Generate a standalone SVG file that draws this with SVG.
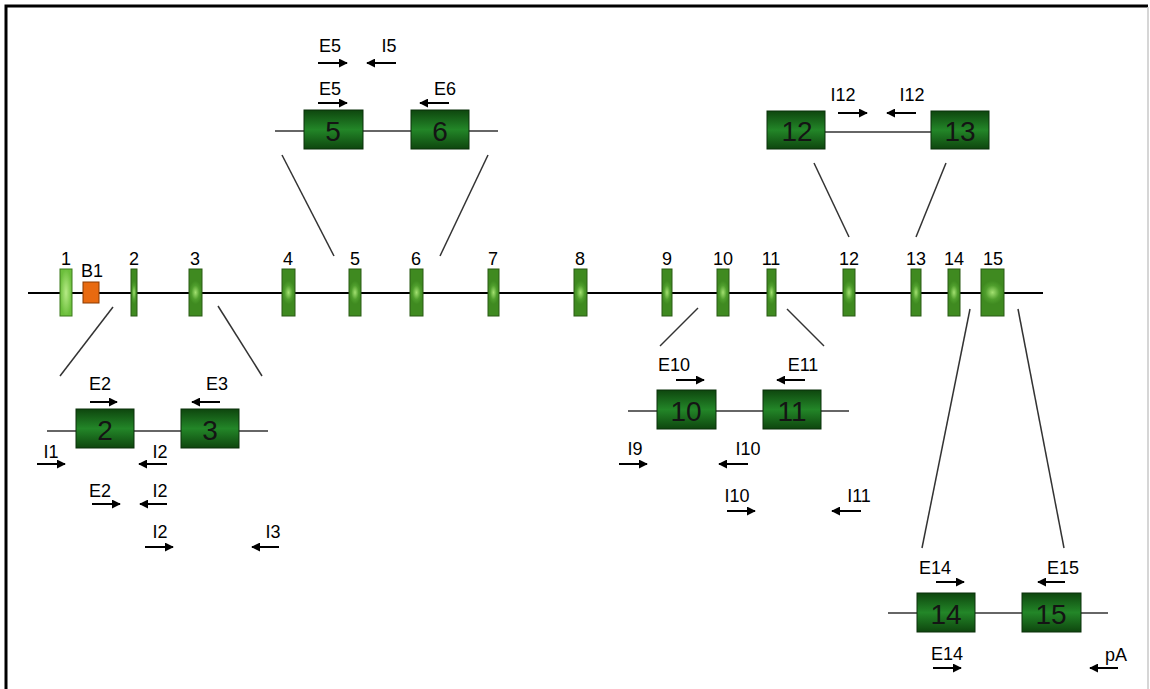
<svg xmlns="http://www.w3.org/2000/svg" width="1150" height="689" viewBox="0 0 1150 689">
<defs>
<radialGradient id="ex" cx="0.5" cy="0.5" r="0.5" gradientTransform="translate(0.5 0.5) scale(1 0.5) translate(-0.5 -0.5)">
<stop offset="0" stop-color="#a2e070"/>
<stop offset="0.6" stop-color="#509f2d"/>
<stop offset="1" stop-color="#3f8a20"/>
</radialGradient>
<radialGradient id="ex1" cx="0.5" cy="0.5" r="0.5">
<stop offset="0" stop-color="#b6ea86"/>
<stop offset="1" stop-color="#6cbf3c"/>
</radialGradient>
<linearGradient id="bx" x1="0" y1="0" x2="0" y2="1">
<stop offset="0" stop-color="#0e460e"/>
<stop offset="0.5" stop-color="#238628"/>
<stop offset="1" stop-color="#0e460e"/>
</linearGradient>
<marker id="ah" viewBox="0 0 10 10" refX="9" refY="5" markerWidth="4.5" markerHeight="4.5" orient="auto">
<path d="M0,0 L10,5 L0,10 z" fill="#000"/>
</marker>
</defs>
<style>
.ln{stroke:#000;stroke-width:2;fill:none}
.th{stroke:#333;stroke-width:1.5;fill:none}
.ex{fill:url(#ex);stroke:#2a5a14;stroke-width:1}
.bx{fill:url(#bx);stroke:#0a300a;stroke-width:1}
.t{font-family:"Liberation Sans",Arial,sans-serif;font-size:18px;fill:#000;text-anchor:middle}
.bt{font-family:"Liberation Sans",Arial,sans-serif;font-size:28px;fill:#141414;text-anchor:middle}
.ar{stroke:#000;stroke-width:2;fill:none;marker-end:url(#ah)}
</style>
<rect width="1150" height="689" fill="#fff"/>
<path d="M6,689 V6 H1148" stroke="#000" stroke-width="3" fill="none"/>
<line x1="1148" y1="7" x2="1148" y2="689" stroke="#c8c8c8" stroke-width="1.5"/>

<g id="gene">
<line class="ln" x1="28" y1="293" x2="1043" y2="293"/>
</g>
<g id="exon1"><rect x="60" y="269" width="12" height="47" fill="url(#ex1)" stroke="#3d7a1c"/><text class="t" x="66" y="265">1</text></g>
<g id="B1"><rect x="83" y="282" width="16" height="21" fill="#e86a10" stroke="#8a3a00"/><text class="t" x="92" y="277">B1</text></g>
<g id="exon2"><rect class="ex" x="131" y="269" width="6" height="47"/><text class="t" x="134" y="265">2</text></g>
<g id="exon3"><rect class="ex" x="189" y="269" width="13" height="47"/><text class="t" x="195" y="265">3</text></g>
<g id="exon4"><rect class="ex" x="282" y="269" width="13" height="47"/><text class="t" x="288" y="265">4</text></g>
<g id="exon5"><rect class="ex" x="349" y="269" width="12" height="47"/><text class="t" x="355" y="265">5</text></g>
<g id="exon6"><rect class="ex" x="410" y="269" width="13" height="47"/><text class="t" x="416" y="265">6</text></g>
<g id="exon7"><rect class="ex" x="488" y="269" width="11" height="47"/><text class="t" x="493" y="265">7</text></g>
<g id="exon8"><rect class="ex" x="574" y="269" width="13" height="47"/><text class="t" x="580" y="265">8</text></g>
<g id="exon9"><rect class="ex" x="662" y="269" width="10" height="47"/><text class="t" x="667" y="265">9</text></g>
<g id="exon10"><rect class="ex" x="717" y="269" width="12" height="47"/><text class="t" x="723" y="265">10</text></g>
<g id="exon11"><rect class="ex" x="767" y="269" width="9" height="47"/><text class="t" x="771" y="265">11</text></g>
<g id="exon12"><rect class="ex" x="843" y="269" width="12" height="47"/><text class="t" x="849" y="265">12</text></g>
<g id="exon13"><rect class="ex" x="911" y="269" width="10" height="47"/><text class="t" x="916" y="265">13</text></g>
<g id="exon14"><rect class="ex" x="948" y="269" width="12" height="47"/><text class="t" x="954" y="265">14</text></g>
<g id="exon15"><rect class="ex" x="981" y="269" width="23" height="47"/><text class="t" x="993" y="265">15</text></g>

<g id="connectors">
<line class="th" x1="113" y1="307" x2="60" y2="376"/>
<line class="th" x1="218" y1="306" x2="262" y2="376"/>
<line class="th" x1="282" y1="155" x2="334" y2="256"/>
<line class="th" x1="488" y1="155" x2="440" y2="256"/>
<line class="th" x1="814" y1="163" x2="849" y2="237"/>
<line class="th" x1="946" y1="163" x2="916" y2="237"/>
<line class="th" x1="698" y1="308" x2="660" y2="346"/>
<line class="th" x1="787" y1="309" x2="824" y2="346"/>
<line class="th" x1="970" y1="309" x2="922" y2="548"/>
<line class="th" x1="1018" y1="309" x2="1064" y2="548"/>
</g>

<g id="zoom23">
<line class="th" x1="47" y1="431" x2="268" y2="431"/>
<rect class="bx" x="76" y="409" width="58" height="39"/><text class="bt" x="105" y="440">2</text>
<rect class="bx" x="181" y="409" width="58" height="39"/><text class="bt" x="210" y="440">3</text>
<text class="t" x="100" y="390">E2</text><line class="ar" x1="90" y1="402" x2="117" y2="402"/>
<text class="t" x="217" y="390">E3</text><line class="ar" x1="220" y1="402" x2="192" y2="402"/>
<text class="t" x="51" y="458">I1</text><line class="ar" x1="37" y1="464" x2="65" y2="464"/>
<text class="t" x="160" y="458">I2</text><line class="ar" x1="167" y1="464" x2="139" y2="464"/>
<text class="t" x="100" y="497">E2</text><line class="ar" x1="92" y1="504" x2="120" y2="504"/>
<text class="t" x="160" y="497">I2</text><line class="ar" x1="167" y1="504" x2="140" y2="504"/>
<text class="t" x="160" y="538">I2</text><line class="ar" x1="145" y1="547" x2="173" y2="547"/>
<text class="t" x="273" y="538">I3</text><line class="ar" x1="279" y1="547" x2="252" y2="547"/>
</g>

<g id="zoom56">
<line class="th" x1="275" y1="131" x2="498" y2="131"/>
<rect class="bx" x="304" y="110" width="59" height="39"/><text class="bt" x="333" y="141">5</text>
<rect class="bx" x="411" y="110" width="58" height="39"/><text class="bt" x="440" y="141">6</text>
<text class="t" x="330" y="52">E5</text><line class="ar" x1="318" y1="63" x2="347" y2="63"/>
<text class="t" x="389" y="52">I5</text><line class="ar" x1="396" y1="63" x2="367" y2="63"/>
<text class="t" x="330" y="95">E5</text><line class="ar" x1="318" y1="103" x2="347" y2="103"/>
<text class="t" x="445" y="95">E6</text><line class="ar" x1="449" y1="103" x2="420" y2="103"/>
</g>

<g id="zoom1213">
<line class="th" x1="825" y1="132" x2="931" y2="132"/>
<rect class="bx" x="767" y="111" width="58" height="38"/><text class="bt" x="797" y="141">12</text>
<rect class="bx" x="931" y="111" width="58" height="38"/><text class="bt" x="960" y="141">13</text>
<text class="t" x="843" y="101">I12</text><line class="ar" x1="838" y1="113" x2="867" y2="113"/>
<text class="t" x="912" y="101">I12</text><line class="ar" x1="916" y1="113" x2="887" y2="113"/>
</g>

<g id="zoom1011">
<line class="th" x1="628" y1="411" x2="849" y2="411"/>
<rect class="bx" x="657" y="390" width="59" height="39"/><text class="bt" x="686" y="421">10</text>
<rect class="bx" x="763" y="390" width="58" height="39"/><text class="bt" x="792" y="421">11</text>
<text class="t" x="674" y="371">E10</text><line class="ar" x1="676" y1="380" x2="704" y2="380"/>
<text class="t" x="803" y="371">E11</text><line class="ar" x1="805" y1="380" x2="777" y2="380"/>
<text class="t" x="635" y="455">I9</text><line class="ar" x1="619" y1="464" x2="647" y2="464"/>
<text class="t" x="748" y="455">I10</text><line class="ar" x1="748" y1="464" x2="719" y2="464"/>
<text class="t" x="737" y="502">I10</text><line class="ar" x1="727" y1="511" x2="755" y2="511"/>
<text class="t" x="859" y="502">I11</text><line class="ar" x1="861" y1="511" x2="832" y2="511"/>
</g>

<g id="zoom1415">
<line class="th" x1="888" y1="613" x2="1108" y2="613"/>
<rect class="bx" x="917" y="593" width="58" height="39"/><text class="bt" x="946" y="624">14</text>
<rect class="bx" x="1022" y="593" width="59" height="39"/><text class="bt" x="1051" y="624">15</text>
<text class="t" x="935" y="574">E14</text><line class="ar" x1="936" y1="582" x2="964" y2="582"/>
<text class="t" x="1063" y="574">E15</text><line class="ar" x1="1065" y1="582" x2="1038" y2="582"/>
<text class="t" x="947" y="660">E14</text><line class="ar" x1="933" y1="668" x2="961" y2="668"/>
<text class="t" x="1116" y="661">pA</text><line class="ar" x1="1118" y1="668" x2="1090" y2="668"/>
</g>
</svg>
